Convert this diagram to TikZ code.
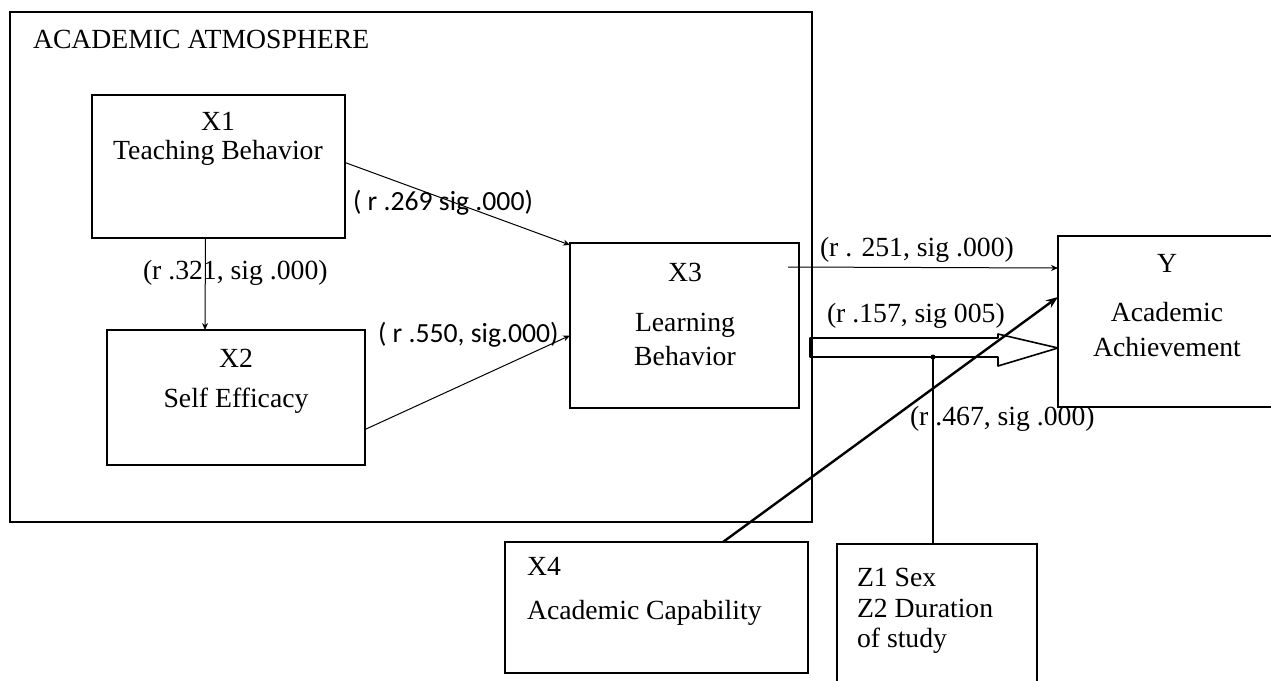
\documentclass[tikz,border=0pt]{standalone}
\usepackage{fontspec}
\setmainfont{Liberation Serif}
\newfontfamily\labsans{Carlito}
\usetikzlibrary{arrows.meta,calc,fit}
\begin{document}
\begin{tikzpicture}[x=0.5pt,y=-0.5pt,
  every node/.style={font=\fontsize{13.85}{16}\selectfont, inner sep=0pt, outer sep=0pt},
  box/.style={draw, line width=0.7pt, inner sep=0pt},
  txt/.style={anchor=base},
  ltxt/.style={anchor=base west},
  sanslab/.style={anchor=base west, font=\fontsize{13.85}{16}\selectfont\labsans},
  thinarr/.style={line width=0.5pt, -{Stealth[length=3.5pt,width=3pt]}},
  thickarr/.style={line width=1.2pt, -{Stealth[length=6pt,width=4.5pt]}},
  zline/.style={line width=0.9pt},
  bigarr/.style={line width=0.8pt, line join=round}]
\useasboundingbox (0,0) rectangle (1271,681);
\fill[white] (0,0) rectangle (1271,681);
\clip (0,0) rectangle (1271,681);

% boxes
\node[box, fit={(10,12) (812,522)}] (outer) {};
\node[box, fit={(92,95) (345,238)}] (x1) {};
\node[box, fit={(107,330) (365,465)}] (x2) {};
\node[box, fit={(570,243) (799,408)}] (x3) {};
\node[box, fit={(1058,236) (1280,407)}] (ybox) {};
\node[box, fit={(505,542) (808,673)}] (x4) {};
\node[box, fit={(837,544) (1037,700)}] (z) {};

% texts
\node[ltxt] (title) at (33,48) {ACADEMIC ATMOSPHERE};
\node[txt] (x1a) at (218,130) {X1};
\node[txt] (x1b) at (218,159) {Teaching Behavior};
\node[txt] (x2a) at (236,367) {X2};
\node[txt] (x2b) at (236,407) {Self Efficacy};
\node[txt] (x3a) at (685,281) {X3};
\node[txt] (x3b) at (685,331) {Learning};
\node[txt] (x3c) at (685,365) {Behavior};
\node[txt] (ya) at (1167,272) {Y};
\node[txt] (yb) at (1167,321) {Academic};
\node[txt] (yc) at (1167,356) {Achievement};
\node[ltxt] (x4a) at (527,575) {X4};
\node[ltxt] (x4b) at (527,619) {Academic Capability};
\node[ltxt] (za) at (857,586) {Z1 Sex};
\node[ltxt] (zb) at (857,617) {Z2 Duration};
\node[ltxt] (zc) at (857,647) {of study};

% labels
\node[ltxt] (l321) at (143,279) {(r .321, sig .000)};
\node[sanslab] (l269) at (353,210) {( r .269 sig .000)};
\node[sanslab] (l550) at (378,342) {( r .550, sig.000)};
\node[ltxt] (l251) at (820,256) {(r . 251, sig .000)};
\node[ltxt] (l157) at (827,322) {(r .157, sig 005)};
\node[ltxt] (l467) at (910,425) {(r .467, sig .000)};

% connectors
\draw[thinarr] ($(x1.south)+(-13,0)$) -- ($(x2.north)+(-31,0)$);
\draw[thinarr] ($(x1.east)+(0,-4)$) -- ($(x3.north west)+(0,2)$);
\draw[thinarr] ($(x2.east)+(0,32)$) -- ($(x3.west)+(0,10)$);
\draw[thinarr] ($(x3.north east)+(-11,24)$) -- ($(ybox.north west)+(0,32)$);

% big hollow arrow
\coordinate (bs) at ($(outer.north east)+(-2,326)$);
\coordinate (tip) at ($(ybox.north west)+(0,112)$);
\draw[bigarr] (bs) -- ($(tip)+(-60,-10)$) -- ($(tip)+(-60,-14)$) -- (tip)
  -- ($(tip)+(-60,18)$) -- ($(tip)+(-60,9)$) -- ($(bs)+(0,19)$) -- cycle;
\coordinate (sb) at ($(bs)+(0,19)$);

% Z line
\coordinate (zx) at ($(z.north)+(-4,0)$);
\draw[zline] (zx) -- (zx |- sb);
\fill (zx |- sb) circle (2.5);

% X4 arrow
\draw[thickarr] ($(x4.north)+(66.5,0)$) -- ($(ybox.west)+(0,-24.5)$);
\end{tikzpicture}
\end{document}
